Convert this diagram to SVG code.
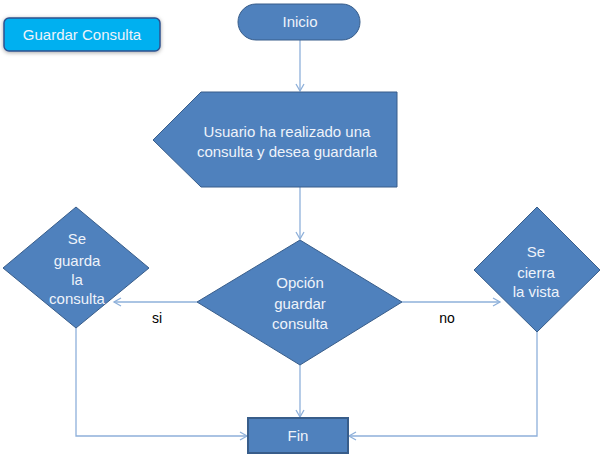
<svg xmlns="http://www.w3.org/2000/svg" width="601" height="455" viewBox="0 0 601 455">
<defs>
<style>
.shape{fill:#4F81BD;stroke:#385D8A;stroke-width:1}
.t{font-family:"Liberation Sans",Arial,sans-serif;font-size:15px;fill:#EEF3FA;text-anchor:middle}
.lbl{font-family:"Liberation Sans",Arial,sans-serif;font-size:14px;fill:#000;text-anchor:middle}
.c{fill:none;stroke:#8EB0DA;stroke-width:1.3}
</style>
<marker id="arr" markerWidth="10" markerHeight="10" refX="8" refY="5" orient="auto" markerUnits="userSpaceOnUse">
<path d="M1,1 L8,5 L1,9" fill="none" stroke="#8EB0DA" stroke-width="1.3"/>
</marker>
<filter id="sh" x="-10%" y="-30%" width="120%" height="160%">
<feDropShadow dx="0" dy="1" stdDeviation="2" flood-color="#000" flood-opacity="0.35"/>
</filter>
</defs>
<g id="connectors">
<line class="c" x1="300" y1="40" x2="300" y2="91" marker-end="url(#arr)"/>
<line class="c" x1="300" y1="187" x2="300" y2="239" marker-end="url(#arr)"/>
<line class="c" x1="197" y1="302" x2="114" y2="302" marker-end="url(#arr)"/>
<line class="c" x1="402" y1="302" x2="500" y2="302" marker-end="url(#arr)"/>
<line class="c" x1="300" y1="365" x2="300" y2="417" marker-end="url(#arr)"/>
<polyline class="c" points="76,328 76,436 247,436" marker-end="url(#arr)"/>
<polyline class="c" points="537,332 537,436 349,436" marker-end="url(#arr)"/>
</g>
<g id="guardar-consulta">
<rect x="4" y="18" width="156" height="33" rx="5" fill="#00B0F0" stroke="#2F528F" stroke-width="1.5" filter="url(#sh)"/>
<text class="t" x="82" y="40">Guardar Consulta</text>
</g>
<g id="inicio">
<rect class="shape" x="238" y="4" width="122" height="36" rx="18"/>
<text class="t" x="300" y="27">Inicio</text>
</g>
<g id="usuario">
<polygon class="shape" points="153,140 201,92 397,92 397,187 201,187"/>
<text class="t" x="287" y="137">Usuario ha realizado una</text>
<text class="t" x="287" y="157">consulta y desea guardarla</text>
</g>
<g id="opcion">
<polygon class="shape" points="300,240 402,302 300,365 197,302"/>
<text class="t" x="300" y="288">Opción</text>
<text class="t" x="300" y="309">guardar</text>
<text class="t" x="300" y="329">consulta</text>
</g>
<g id="se-guarda">
<polygon class="shape" points="76,207 149,268 76,328 3,268"/>
<text class="t" x="77" y="244">Se</text>
<text class="t" x="77" y="266">guarda</text>
<text class="t" x="77" y="285">la</text>
<text class="t" x="77" y="304">consulta</text>
</g>
<g id="se-cierra">
<polygon class="shape" points="537,207 600,270 537,332 474,270"/>
<text class="t" x="536" y="257">Se</text>
<text class="t" x="536" y="278">cierra</text>
<text class="t" x="536" y="297">la vista</text>
</g>
<g id="fin">
<rect x="248" y="418" width="100" height="35" fill="#4F81BD" stroke="#385D8A" stroke-width="2"/>
<text class="t" x="298" y="441">Fin</text>
</g>
<g id="labels">
<text class="lbl" x="157" y="323">si</text>
<text class="lbl" x="447" y="323">no</text>
</g>
</svg>
